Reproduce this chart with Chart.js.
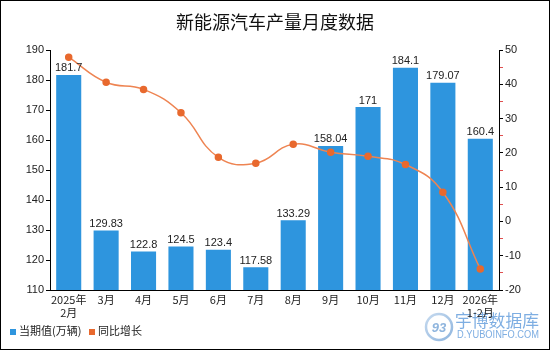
<!DOCTYPE html>
<html><head><meta charset="utf-8">
<script src="https://cdn.jsdelivr.net/npm/chart.js@4"></script>
<style>html,body{margin:0;padding:0;background:#fff}#wrap{width:550px;height:350px;position:relative}</style>
</head><body><div id="wrap"><canvas id="c" width="550" height="350"></canvas></div>
<script>
const categories = [["2025年","2月"],"3月","4月","5月","6月","7月","8月","9月","10月","11月","12月",["2026年","1-2月"]];
const production = [181.7,129.83,122.8,124.5,123.4,117.58,133.29,158.04,171,184.1,179.07,160.4];
const growth = [47.9,40.6,38.5,31.7,18.7,17.0,22.5,20.2,19.0,16.6,8.5,-13.9];
const productionLabels = ["181.7","129.83","122.8","124.5","123.4","117.58","133.29","158.04","171","184.1","179.07","160.4"];
const titleText = "新能源汽车产量月度数据";
const legendNames = ["当期值(万辆)","同比增长"];

const BLUE = "#2E95DE", ORANGE = "#E8692E";
const CJK = "'Noto Sans CJK SC','Noto Sans',sans-serif";
const LAT = "'Liberation Sans',Arial,sans-serif";

const deco = {
  id:'deco',
  beforeDraw(chart){
    const c=chart.ctx; c.save(); c.fillStyle='#fff'; c.fillRect(0,0,chart.width,chart.height);
    // watermark
    const g=c.createLinearGradient(425,312,453,340); g.addColorStop(0,'#c9dcf0'); g.addColorStop(1,'#8fb5de');
    c.strokeStyle=g; c.lineWidth=2.5; c.beginPath(); c.arc(439,327,13,0,Math.PI*2); c.stroke();
    c.fillStyle="#8fb5de"; c.font="italic bold 13px "+LAT; c.textAlign='center'; c.textBaseline='middle';
    c.fillText("93",439,328);
    c.textAlign='left'; c.font="17px "+CJK; c.fillStyle="#7eaee2"; c.fillText("宇博数据库",455,321,84);
    c.font="11px "+LAT; c.fillStyle="#7eaee2"; c.fillText("D.YUBOINFO.COM",457,335,82);
    c.restore();
  },
  afterDatasetsDraw(chart){
    const c=chart.ctx; c.save();
    const meta=chart.getDatasetMeta(1);
    c.font="11px "+LAT; c.fillStyle="#222"; c.textAlign='center'; c.textBaseline='bottom';
    meta.data.forEach((b,i)=>{ c.fillText(productionLabels[i], b.x, b.y-1); });
    c.restore();
  },
  afterDraw(chart){
    const c=chart.ctx; c.save();
    c.fillStyle="#111"; c.font="18px "+CJK; c.textAlign='center'; c.textBaseline='middle';
    c.fillText(titleText, 275, 22);
    // legend
    c.textAlign='left'; c.font="11px "+CJK; c.fillStyle=BLUE; c.fillRect(10,329,6,6);
    c.fillStyle="#222"; c.fillText(legendNames[0], 19, 331);
    c.fillStyle=ORANGE; c.fillRect(89,329,6,6);
    c.fillStyle="#222"; c.fillText(legendNames[1], 98, 331);
    // border
    c.strokeStyle="#000"; c.lineWidth=1; c.strokeRect(0.5,0.5,549,349);
    c.restore();
  }
};

const tickColor = ctx => (ctx.tick && Math.abs(ctx.tick.value % 10) > 0.01) ? '#e05050' : '#000';

new Chart(document.getElementById('c'),{
  data:{
    labels:categories,
    datasets:[
      {type:'line',label:legendNames[1],data:growth,yAxisID:'y1',borderColor:'#EE8452',backgroundColor:ORANGE,
       pointBackgroundColor:ORANGE,pointBorderColor:ORANGE,pointRadius:3,borderWidth:1.5,tension:0.45,order:0},
      {type:'bar',label:legendNames[0],data:production,yAxisID:'y',backgroundColor:BLUE,
       barPercentage:0.67,categoryPercentage:1,order:1}
    ]
  },
  options:{
    responsive:false,animation:false,
    layout:{padding:{top:50,left:0,right:0,bottom:0}},
    plugins:{legend:{display:false},title:{display:false},tooltip:{enabled:false}},
    scales:{
      x:{grid:{display:false,drawTicks:false},border:{display:true,color:'#000'},
         ticks:{font:{size:11,family:CJK},color:'#222',padding:3,maxRotation:0,autoSkip:false},
         afterFit(s){s.height=60;}},
      y:{position:'left',min:110,max:190,
         ticks:{stepSize:5,font:{size:11,family:LAT},color:'#222',padding:2,
                callback:v=> v%10===0 ? v : ''},
         grid:{drawOnChartArea:false,tickLength:4,color:tickColor},border:{color:'#000'},
         afterFit(s){s.width=50;}},
      y1:{position:'right',min:-20,max:50,
         ticks:{stepSize:5,font:{size:11,family:LAT},color:'#222',padding:2,
                callback:v=> v%10===0 ? v : ''},
         grid:{drawOnChartArea:false,tickLength:4,color:tickColor},border:{color:'#000'},
         afterFit(s){s.width=51;}}
    }
  },
  plugins:[deco]
});
</script></body></html>
